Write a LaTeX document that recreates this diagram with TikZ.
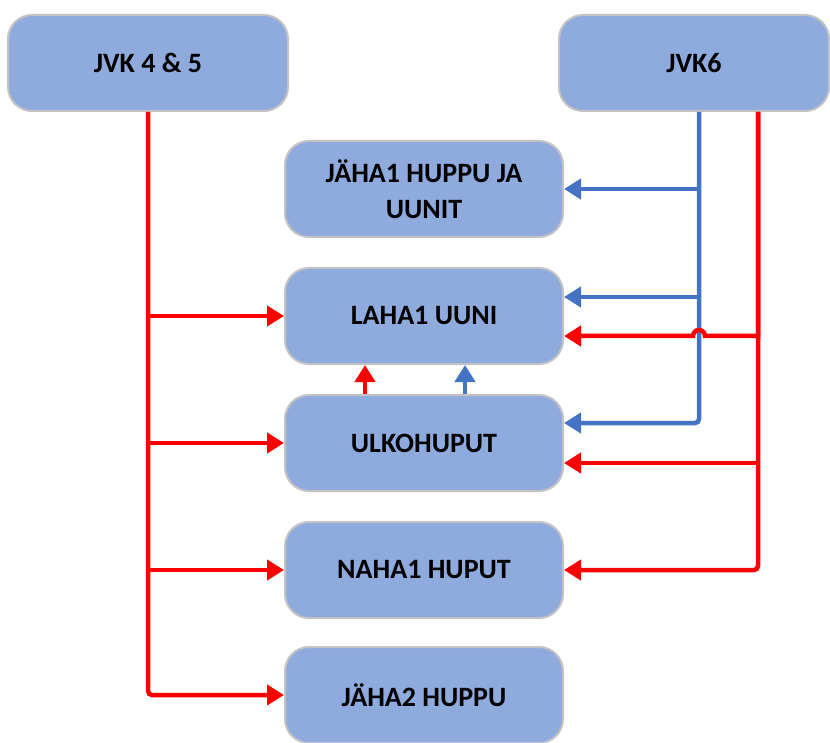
\documentclass[tikz,border=0pt]{standalone}
\usepackage{fontspec}
\setmainfont{Carlito}
\usetikzlibrary{arrows.meta}
\definecolor{boxfill}{RGB}{143,170,220}
\definecolor{boxline}{RGB}{195,195,195}
\definecolor{feedred}{RGB}{255,0,0}
\definecolor{feedblue}{RGB}{68,114,196}
\begin{document}
\begin{tikzpicture}[x=1pt,y=-1pt,
  unit/.style={draw=boxline, line width=2pt, fill=boxfill, rounded corners=24pt,
    minimum width=278pt, minimum height=96pt, inner sep=0pt, align=center,
    font=\fontsize{28}{36}\selectfont\bfseries},
  redline/.style={draw=feedred, line width=4.5pt},
  blueline/.style={draw=feedblue, line width=4.5pt},
  tip/.style={-{Triangle[length=17pt,width=20pt]}}
]
\useasboundingbox (0,0) rectangle (830,743);

% units
\node[unit, minimum width=280pt] (j45) at (148,63) {JVK 4 \& 5};
\node[unit, minimum width=270pt] (j6) at (694,63) {JVK6};
\node[unit] (jaha1) at (424,189) {JÄHA1 HUPPU JA\\UUNIT};
\node[unit] (laha) at (424,316) {LAHA1 UUNI};
\node[unit] (ulko) at (424,443) {ULKOHUPUT};
\node[unit] (naha) at (424,570) {NAHA1 HUPUT};
\node[unit] (jaha2) at (424,695) {JÄHA2 HUPPU};

% feed from JVK 4 & 5
\draw[redline, tip] (j45.south) |- (laha.west);
\draw[redline, tip] (j45.south) |- (ulko.west);
\draw[redline, tip] (j45.south) |- (naha.west);
\draw[redline, tip, rounded corners=4pt] (j45.south) |- (jaha2.west);

% blue feed from JVK6
\coordinate (bt) at ([xshift=5pt]j6.south);
\draw[blueline, tip] (bt) |- (jaha1.east);
\draw[blueline, tip] (bt) |- ([yshift=19pt]laha.east);
\draw[blueline, tip, rounded corners=4pt] (bt) |- ([yshift=20pt]ulko.east);

% red feed from JVK6, hopping over the blue trunk
\coordinate (rt) at ([xshift=64pt]j6.south);
\coordinate (lahaR) at ([yshift=-20pt]laha.east);
\coordinate (hop) at (lahaR -| bt);
\draw[redline, tip] (rt) |- ([xshift=6pt]hop)
  arc[start angle=0, end angle=180, radius=6pt] -- (lahaR);
\draw[redline, tip] (rt) |- ([yshift=-20pt]ulko.east);
\draw[redline, tip, rounded corners=4pt] (rt) |- (naha.east);

% ULKOHUPUT to LAHA1 UUNI
\draw[redline, tip] ([xshift=-59pt]ulko.north) -- ([xshift=-59pt]laha.south);
\draw[blueline, tip] ([xshift=41pt]ulko.north) -- ([xshift=41pt]laha.south);
\end{tikzpicture}
\end{document}
